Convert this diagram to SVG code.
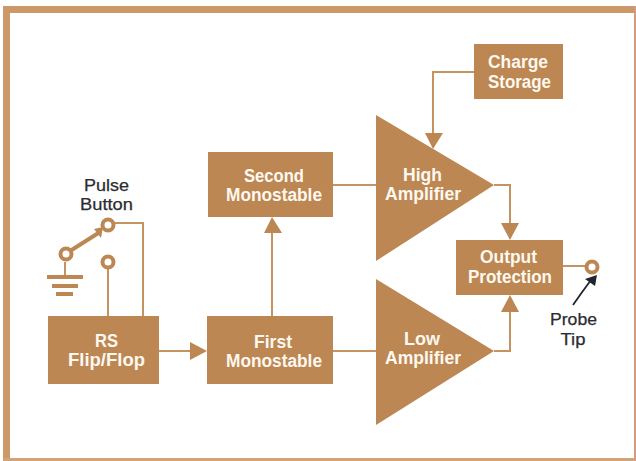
<svg xmlns="http://www.w3.org/2000/svg" width="636" height="461" viewBox="0 0 636 461">
<style>
.b{fill:#bc8753}
.w{font:700 18px "Liberation Sans",Arial,sans-serif;fill:#fdf8f0;text-anchor:middle}
.k{font:400 17px "Liberation Sans",Arial,sans-serif;fill:#2a2c30;text-anchor:middle;stroke:#2a2c30;stroke-width:.25}
.l{fill:none;stroke:#c4935f;stroke-width:2}
.t{fill:none;stroke:#bc8753;stroke-width:4}
.r{fill:#fff;stroke:#bc8753;stroke-width:4}
</style>
<rect width="636" height="461" fill="#fff"/>
<path d="M3 9.500H636M6.500 6V461" fill="none" stroke="#cc9868" stroke-width="7"/>
<path d="M3 459.500H636" fill="none" stroke="#d2a377" stroke-width="3"/>
<path d="M635 6V461" stroke="#d69a80" stroke-width="2"/>
<g id="connectors">
<path class="l" d="M108 262V316M143 316V223H113"/>
<path class="l" d="M159 351H192"/><path class="b" d="M190 342L207 351L190 360Z"/>
<path class="l" d="M272 316V232"/><path class="b" d="M264 233L272 217L282 233Z"/>
<path class="l" d="M333 185H376M333 351H376"/>
<path class="l" d="M474 72H433V135"/><path class="b" d="M425 133H443L433 149Z"/>
<path class="l" d="M494 185H510V225"/><path class="b" d="M501 223H519L510 240Z"/>
<path class="l" d="M494 351H510V310"/><path class="b" d="M501 312H519L510 295Z"/>
<path class="l" d="M563 266H586"/>
<path class="t" d="M70 251L100 232"/><path class="b" d="M94 229L103 227L101 238Z"/>
<path class="l" d="M65 262V276"/>
<path class="t" d="M47 277H83M52 286H78M56 294H73"/>
<path d="M573 305Q582 292 591 280" fill="none" stroke="#20242c" stroke-width="1.800"/>
<path d="M585 279L597 275L595 286Z" fill="#20242c"/>
</g>
<g id="pulse-button"><circle class="r" cx="108" cy="225" r="5.500"/><text class="k" x="106.500" y="191" textLength="45" lengthAdjust="spacingAndGlyphs">Pulse</text><text class="k" x="106.500" y="210" textLength="53" lengthAdjust="spacingAndGlyphs">Button</text></g>
<g id="contact"><circle class="r" cx="108" cy="262" r="5.500"/></g>
<g id="ground-pivot"><circle class="r" cx="66" cy="254" r="5.500"/></g>
<g id="rs"><rect class="b" x="48" y="316" width="111" height="68"/><text class="w" x="106.500" y="347" textLength="23" lengthAdjust="spacingAndGlyphs">RS</text><text class="w" x="106.500" y="366" textLength="77" lengthAdjust="spacingAndGlyphs">Flip/Flop</text></g>
<g id="first"><rect class="b" x="207" y="316" width="126" height="68"/><text class="w" x="273" y="348" textLength="38" lengthAdjust="spacingAndGlyphs">First</text><text class="w" x="274" y="367" textLength="96" lengthAdjust="spacingAndGlyphs">Monostable</text></g>
<g id="second"><rect class="b" x="208" y="152" width="125" height="65"/><text class="w" x="274" y="182" textLength="60" lengthAdjust="spacingAndGlyphs">Second</text><text class="w" x="274" y="201" textLength="96" lengthAdjust="spacingAndGlyphs">Monostable</text></g>
<g id="high"><path class="b" d="M376 115L494 185L376 261Z"/><text class="w" x="422.500" y="181" textLength="39" lengthAdjust="spacingAndGlyphs">High</text><text class="w" x="423" y="200" textLength="76" lengthAdjust="spacingAndGlyphs">Amplifier</text></g>
<g id="low"><path class="b" d="M376 279L494 351L376 425Z"/><text class="w" x="422" y="345" textLength="36" lengthAdjust="spacingAndGlyphs">Low</text><text class="w" x="423" y="364" textLength="76" lengthAdjust="spacingAndGlyphs">Amplifier</text></g>
<g id="charge"><rect class="b" x="474" y="44" width="89" height="55"/><text class="w" x="518" y="68" textLength="60" lengthAdjust="spacingAndGlyphs">Charge</text><text class="w" x="519.500" y="88" textLength="63" lengthAdjust="spacingAndGlyphs">Storage</text></g>
<g id="output"><rect class="b" x="456" y="240" width="107" height="55"/><text class="w" x="508.500" y="263" textLength="57" lengthAdjust="spacingAndGlyphs">Output</text><text class="w" x="510" y="283" textLength="84" lengthAdjust="spacingAndGlyphs">Protection</text></g>
<g id="probe"><circle class="r" cx="592" cy="267" r="5.500"/><text class="k" x="573.500" y="325" textLength="47" lengthAdjust="spacingAndGlyphs">Probe</text><text class="k" x="573" y="345" textLength="25" lengthAdjust="spacingAndGlyphs">Tip</text></g>
</svg>
